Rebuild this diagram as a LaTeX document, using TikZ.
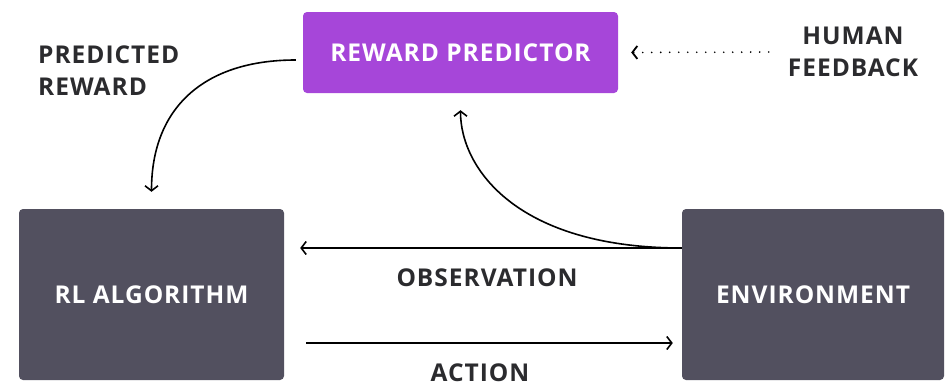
\documentclass[tikz,border=0pt]{standalone}
\usepackage{fontspec}
\setmainfont{Open Sans}[LetterSpace=4]
\usetikzlibrary{arrows.meta}
\definecolor{rewardpurple}{HTML}{A646D9}
\definecolor{boxgray}{HTML}{52505F}
\definecolor{inkgray}{HTML}{2B2B2E}

\begin{document}
\begin{tikzpicture}[x=1pt,y=-1pt,
  box/.style={rectangle,rounded corners=4pt,text=white,font=\bfseries\fontsize{24.5}{28}\selectfont,inner sep=0pt},
  lbl/.style={text=inkgray,font=\bfseries\fontsize{24.5}{32}\selectfont,inner sep=0pt},
  flow/.style={-{Straight Barb[length=5pt,width=13pt]},line width=1.6pt,black}]
  \useasboundingbox (0,0) rectangle (946,383);
  \node[box,fill=rewardpurple,minimum width=315pt,minimum height=81pt] (reward) at (460.5,52.5) {REWARD PREDICTOR};
  \node[box,fill=boxgray,minimum width=265pt,minimum height=171pt] (rl) at (151.5,294.5) {RL ALGORITHM};
  \node[box,fill=boxgray,minimum width=262pt,minimum height=171pt] (env) at (813,294.5) {ENVIRONMENT};
  \node[lbl,align=left,anchor=west] (pred) at (38,71) {PREDICTED\\REWARD};
  \node[lbl,align=center] (human) at (853,52) {HUMAN\\FEEDBACK};
  \node[lbl] (obs) at (487,278) {OBSERVATION};
  \node[lbl] (act) at (480,373) {ACTION};
  \draw[flow,shorten >=16pt] ([yshift=46.5pt]env.west) -- ([yshift=46.5pt]rl.east);
  \draw[flow,shorten <=22pt,shorten >=9pt] ([yshift=-48.5pt]rl.east) -- ([yshift=-48.5pt]env.west);
  \draw[flow,shorten >=17pt] ([yshift=46.5pt]env.west) .. controls +(-165,0) and +(0,75) .. (reward.south);
  \draw[flow,shorten <=7pt,shorten >=17pt] ([yshift=-7.5pt]reward.west) .. controls +(-100,0) and +(0,-100) .. (rl.north);
  \draw[flow,line cap=round,dash pattern=on 0pt off 9pt,line width=1.8pt,shorten <=19pt,shorten >=13pt] (human.west) -- (reward.east);
\end{tikzpicture}
\end{document}
